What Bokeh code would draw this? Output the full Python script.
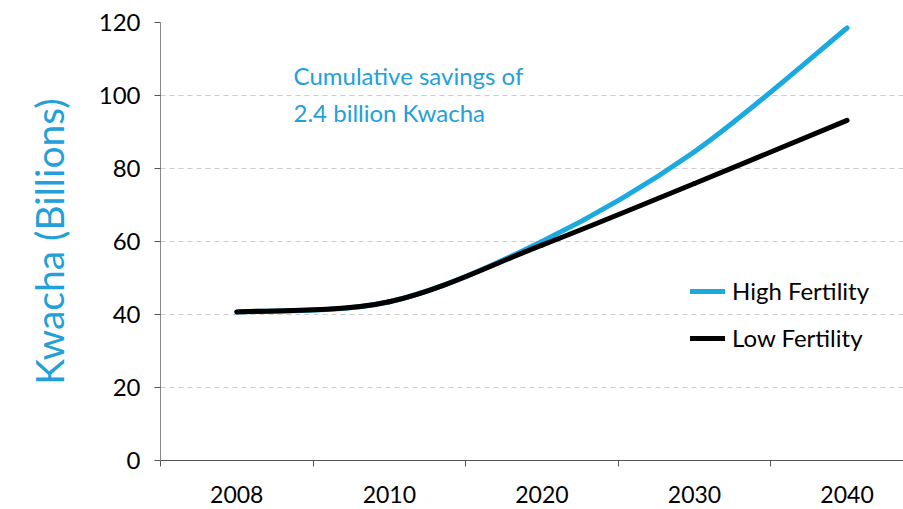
from bokeh.plotting import figure
from bokeh.models import FixedTicker, Label, Legend, LegendItem, ColumnDataSource
from bokeh.embed import file_html
from bokeh.resources import INLINE

years = ["2008", "2010", "2020", "2030", "2040"]
high_fertility = [40.7, 43.5, 60.0, 84.6, 118.5]
low_fertility = [40.7, 43.5, 59.0, 75.9, 93.2]
y_ticks = [0, 20, 40, 60, 80, 100, 120]

FONT = "Lato"
BLUE = "#1ba9e1"
TEXT_BLUE = "#239fd9"

p = figure(width=903, height=509, output_backend="svg", toolbar_location=None,
           x_range=(0, 4.87), y_range=(0, 120),
           min_border_left=160, min_border_right=0, min_border_top=22, min_border_bottom=49)
p.outline_line_color = None
p.background_fill_color = "white"
p.border_fill_color = "white"

xs = [i + 0.5 for i in range(len(years))]


def smooth_segments(x, y):
    n = len(x)
    seg = dict(x0=[], y0=[], x1=[], y1=[], cx0=[], cy0=[], cx1=[], cy1=[])
    for i in range(n - 1):
        p0 = (x[max(i - 1, 0)], y[max(i - 1, 0)])
        p1 = (x[i], y[i])
        p2 = (x[i + 1], y[i + 1])
        p3 = (x[min(i + 2, n - 1)], y[min(i + 2, n - 1)])
        seg["x0"].append(p1[0]); seg["y0"].append(p1[1])
        seg["x1"].append(p2[0]); seg["y1"].append(p2[1])
        seg["cx0"].append(p1[0] + (p2[0] - p0[0]) / 6)
        seg["cy0"].append(p1[1] + (p2[1] - p0[1]) / 6)
        seg["cx1"].append(p2[0] - (p3[0] - p1[0]) / 6)
        seg["cy1"].append(p2[1] - (p3[1] - p1[1]) / 6)
    return ColumnDataSource(seg)


r_high = p.bezier("x0", "y0", "x1", "y1", "cx0", "cy0", "cx1", "cy1",
                  source=smooth_segments(xs, high_fertility),
                  line_color=BLUE, line_width=5, line_cap="round")
r_low = p.bezier("x0", "y0", "x1", "y1", "cx0", "cy0", "cx1", "cy1",
                 source=smooth_segments(xs, low_fertility),
                 line_color="black", line_width=5, line_cap="round")

# x axis
xt = FixedTicker(ticks=xs, minor_ticks=[0, 1, 2, 3, 4])
p.xaxis.ticker = xt
p.xaxis.major_label_overrides = {x: y for x, y in zip(xs, years)}
p.xaxis.major_tick_out = 0
p.xaxis.major_tick_in = 0
p.xaxis.minor_tick_out = 6
p.xaxis.minor_tick_in = 0
p.xaxis.minor_tick_line_color = "#555555"
p.xaxis.axis_line_color = "#555555"
p.xaxis.major_label_text_font = FONT
p.xaxis.major_label_text_font_size = "23px"
p.xaxis.major_label_text_color = "black"
p.xaxis.major_label_standoff = 19

# y axis
p.yaxis.ticker = FixedTicker(ticks=y_ticks)
p.yaxis.minor_tick_line_color = None
p.yaxis.major_tick_out = 6
p.yaxis.major_tick_in = 0
p.yaxis.major_tick_line_color = "#555555"
p.yaxis.axis_line_color = "#888888"
p.yaxis.major_label_text_font = FONT
p.yaxis.major_label_text_font_size = "24px"
p.yaxis.major_label_text_color = "black"
p.yaxis.major_label_standoff = 14
p.yaxis.axis_label = "Kwacha (Billions)"
p.yaxis.axis_label_text_font = FONT
p.yaxis.axis_label_text_font_size = "39px"
p.yaxis.axis_label_text_font_style = "normal"
p.yaxis.axis_label_text_color = TEXT_BLUE
p.yaxis.axis_label_standoff = 24

p.xgrid.grid_line_color = None
p.ygrid.grid_line_color = "#cccccc"
p.ygrid.grid_line_dash = "5 4"
p.ygrid.grid_line_width = 1

p.add_layout(Label(x=0.872, y=105.4, text="Cumulative savings of", text_font=FONT,
                   text_font_size="24px", text_color=TEXT_BLUE, text_baseline="middle"))
p.add_layout(Label(x=0.872, y=95.3, text="2.4 billion Kwacha", text_font=FONT,
                   text_font_size="24px", text_color=TEXT_BLUE, text_baseline="middle"))

legend = Legend(items=[LegendItem(label="High Fertility", renderers=[r_high]),
                       LegendItem(label="Low Fertility", renderers=[r_low])],
                location=(530, 108))
legend.border_line_color = None
legend.background_fill_alpha = 0
legend.label_text_font = FONT
legend.label_text_font_size = "24px"
legend.label_text_color = "black"
legend.glyph_width = 35
legend.glyph_height = 26
legend.spacing = 18
legend.label_standoff = 7
p.add_layout(legend)

open("out.html", "w").write(file_html(p, INLINE))
